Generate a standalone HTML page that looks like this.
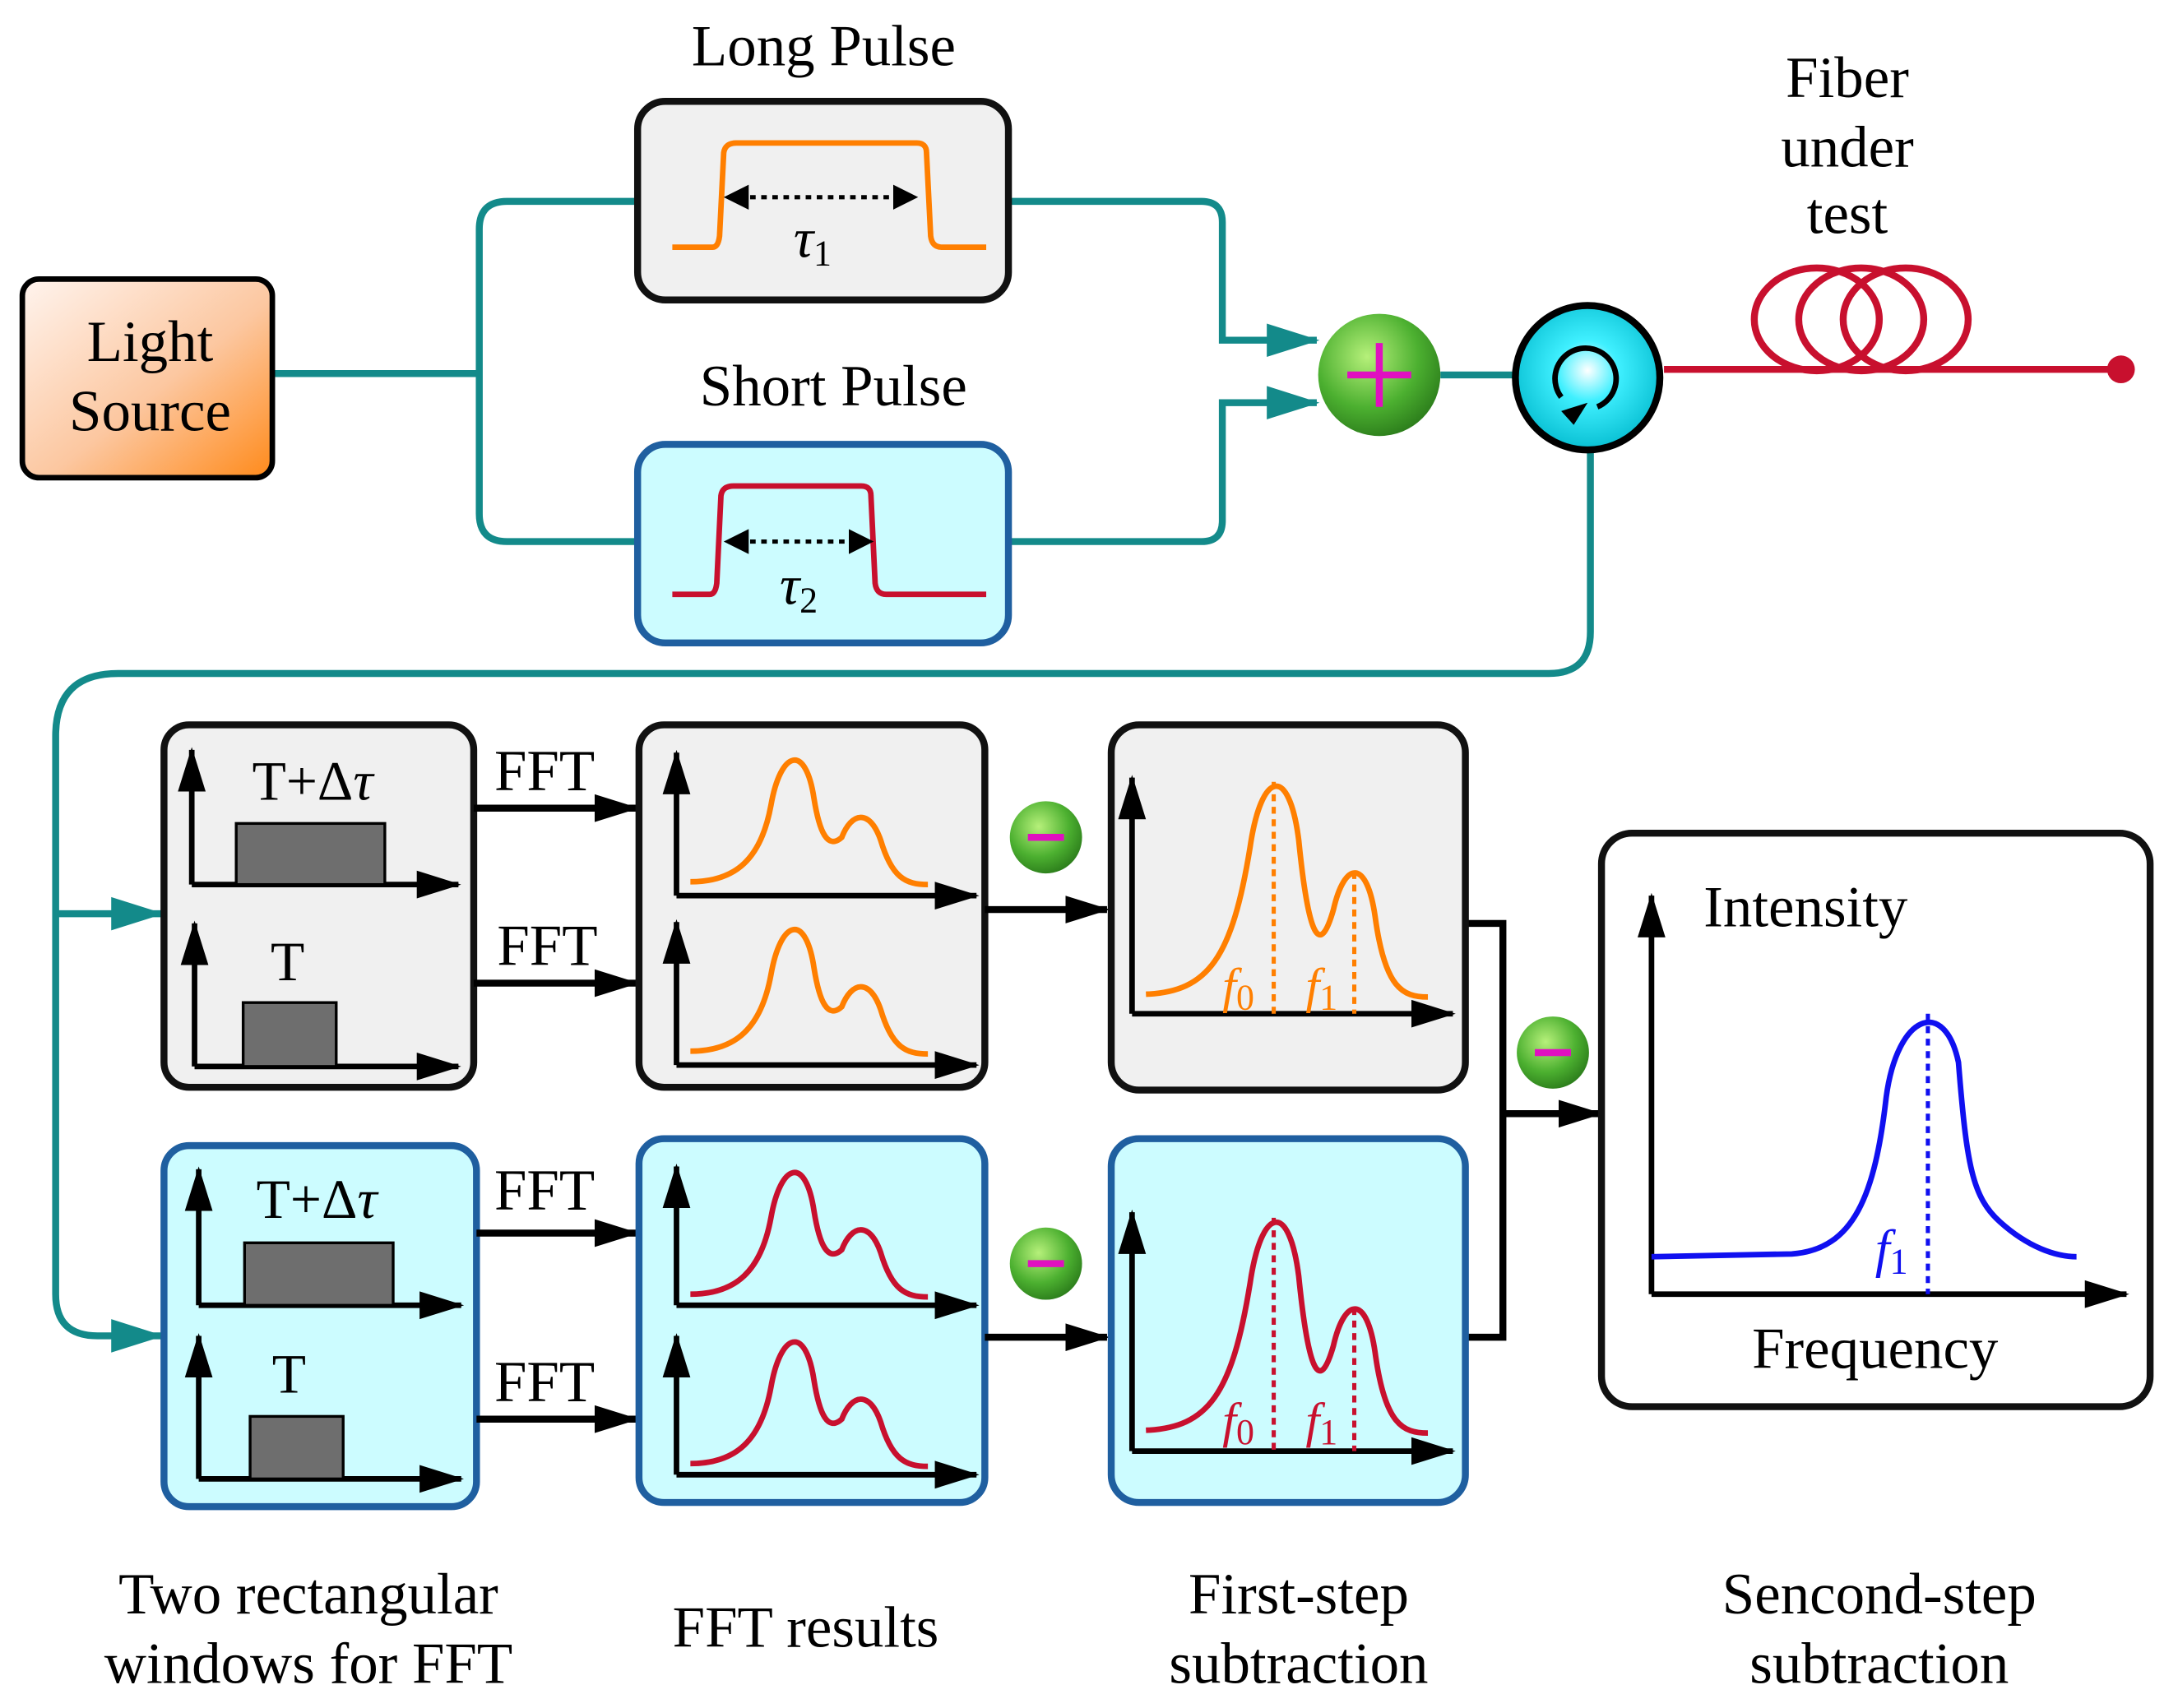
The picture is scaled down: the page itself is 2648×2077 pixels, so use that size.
<!DOCTYPE html>
<html><head><meta charset="utf-8"><style>html,body{margin:0;padding:0;background:#fff}svg{display:block}</style></head>
<body>
<svg width="2648" height="2077" viewBox="0 0 1568 1230" xmlns="http://www.w3.org/2000/svg" font-family="'Liberation Serif',serif">
<defs>
<linearGradient id="ls" x1="0" y1="0" x2="1" y2="1"><stop offset="0" stop-color="#fff4ee"/><stop offset="0.55" stop-color="#fcc7a0"/><stop offset="1" stop-color="#ff8a1a"/></linearGradient>
<radialGradient id="gr" cx="0.4" cy="0.35" r="0.7"><stop offset="0" stop-color="#b6f07a"/><stop offset="0.6" stop-color="#4cb030"/><stop offset="1" stop-color="#2a7a1a"/></radialGradient>
<radialGradient id="cy" cx="0.5" cy="0.45" r="0.6"><stop offset="0" stop-color="#ffffff"/><stop offset="0.35" stop-color="#40f0ff"/><stop offset="1" stop-color="#00b8cc"/></radialGradient>
<marker id="ak" markerWidth="32" markerHeight="22" refX="30" refY="11" orient="auto" markerUnits="userSpaceOnUse"><path d="M0,1 L32,11 L0,21 Z" fill="#000"/></marker>
<marker id="at" markerWidth="38" markerHeight="26" refX="36" refY="13" orient="auto" markerUnits="userSpaceOnUse"><path d="M0,1 L38,13 L0,25 Z" fill="#138a8a"/></marker>
<marker id="ad" markerWidth="6" markerHeight="6" refX="5" refY="3" orient="auto-start-reverse" markerUnits="strokeWidth"><path d="M0,0 L6,3 L0,6 Z" fill="#000"/></marker>
</defs>

<g fill="none" stroke="#138a8a" stroke-width="5">
<path d="M196,269 H345"/>
<path d="M459,145 H365 Q345,145 345,165 V370 Q345,390 365,390 H459"/>
<path d="M726,145 H865 Q880,145 880,160 V245 H948" marker-end="url(#at)"/>
<path d="M726,390 H865 Q880,390 880,375 V290 H948" marker-end="url(#at)"/>
<path d="M1037,270 H1090"/>
<path d="M1145,325 V455 Q1145,485 1115,485 H85 Q40,485 40,530 V932 Q40,962 70,962 H116" marker-end="url(#at)"/>
<path d="M40,658 H116" marker-end="url(#at)"/>
</g>

<rect x="16" y="201" width="180" height="143" rx="12" fill="url(#ls)" stroke="#000" stroke-width="4"/>
<text x="108" y="260" font-size="42" text-anchor="middle">Light</text>
<text x="108" y="310" font-size="42" text-anchor="middle">Source</text>

<text x="593" y="47" font-size="42" text-anchor="middle">Long Pulse</text>
<rect x="459" y="73" width="267" height="143" rx="20" fill="#f0f0f0" stroke="#111" stroke-width="5"/>
<path d="M484,178 H513 Q517,178 518,170 L521,110 Q522,103 530,103 H660 Q667,103 667,110 L670,170 Q671,178 678,178 H710" fill="none" stroke="#ff7f00" stroke-width="4"/>
<line x1="524" y1="142" x2="658" y2="142" stroke="#000" stroke-width="3" stroke-dasharray="4,4" marker-start="url(#ad)" marker-end="url(#ad)"/>
<text x="585" y="185" font-size="40" font-style="italic" text-anchor="middle">τ<tspan font-size="26" font-style="normal" dy="6">1</tspan></text>

<text x="600" y="292" font-size="42" text-anchor="middle">Short Pulse</text>
<rect x="459" y="320" width="267" height="143" rx="20" fill="#ccfcff" stroke="#1f5fa0" stroke-width="5"/>
<path d="M484,428 H511 Q515,428 516,420 L519,357 Q520,350 528,350 H620 Q627,350 627,357 L630,420 Q631,428 638,428 H710" fill="none" stroke="#c8102e" stroke-width="4"/>
<line x1="524" y1="390" x2="626" y2="390" stroke="#000" stroke-width="3" stroke-dasharray="4,4" marker-start="url(#ad)" marker-end="url(#ad)"/>
<text x="575" y="435" font-size="40" font-style="italic" text-anchor="middle">τ<tspan font-size="26" font-style="normal" dy="6">2</tspan></text>

<circle cx="993" cy="270" r="44" fill="url(#gr)"/>
<path d="M970,270 H1016 M993,247 V293" stroke="#e010c0" stroke-width="5"/>

<circle cx="1143" cy="272" r="52" fill="url(#cy)" stroke="#000" stroke-width="5"/>
<path d="M1124,286 A22,22 0 1 1 1150,293" fill="none" stroke="#000" stroke-width="4"/>
<path d="M1124,296 L1143,290 L1133,306 Z" fill="#000"/>

<line x1="1198" y1="266" x2="1527" y2="266" stroke="#c8102e" stroke-width="5"/>
<g fill="none" stroke="#c8102e" stroke-width="5">
<ellipse cx="1308" cy="230" rx="45" ry="37"/>
<ellipse cx="1340" cy="230" rx="45" ry="37"/>
<ellipse cx="1372" cy="230" rx="45" ry="37"/>
</g>
<circle cx="1527" cy="266" r="10" fill="#c8102e"/>
<text x="1330" y="70" font-size="42" text-anchor="middle">Fiber</text>
<text x="1330" y="120" font-size="42" text-anchor="middle">under</text>
<text x="1330" y="168" font-size="42" text-anchor="middle">test</text>

<rect x="118" y="522" width="223" height="261" rx="18" fill="#f0f0f0" stroke="#111" stroke-width="5"/>
<rect x="118" y="825" width="225" height="260" rx="18" fill="#ccfcff" stroke="#1f5fa0" stroke-width="5"/>
<g stroke="#000" stroke-width="4" fill="none">
<path d="M138,637 V540" marker-end="url(#ak)"/><path d="M138,637 H330" marker-end="url(#ak)"/>
<path d="M140,768 V665" marker-end="url(#ak)"/><path d="M140,768 H330" marker-end="url(#ak)"/>
<path d="M143,940 V842" marker-end="url(#ak)"/><path d="M143,940 H332" marker-end="url(#ak)"/>
<path d="M143,1065 V962" marker-end="url(#ak)"/><path d="M143,1065 H332" marker-end="url(#ak)"/>
</g>
<g fill="#6e6e6e" stroke="#000" stroke-width="2">
<rect x="170" y="593" width="107" height="44"/>
<rect x="175" y="722" width="67" height="46"/>
<rect x="176" y="895" width="107" height="45"/>
<rect x="180" y="1020" width="67" height="45"/>
</g>
<g font-size="40" text-anchor="middle">
<text x="225" y="576">T+Δ<tspan font-style="italic">τ</tspan></text>
<text x="207" y="706">T</text>
<text x="228" y="877">T+Δ<tspan font-style="italic">τ</tspan></text>
<text x="208" y="1003">T</text>
</g>

<g stroke="#000" stroke-width="5" fill="none">
<path d="M341,582 H458" marker-end="url(#ak)"/>
<path d="M341,708 H458" marker-end="url(#ak)"/>
<path d="M343,888 H458" marker-end="url(#ak)"/>
<path d="M343,1022 H458" marker-end="url(#ak)"/>
</g>
<g font-size="42" text-anchor="middle">
<text x="392" y="569">FFT</text><text x="394" y="695">FFT</text>
<text x="392" y="871">FFT</text><text x="392" y="1009">FFT</text>
</g>

<rect x="460" y="522" width="249" height="261" rx="18" fill="#f0f0f0" stroke="#111" stroke-width="5"/>
<rect x="460" y="820" width="249" height="262" rx="18" fill="#ccfcff" stroke="#1f5fa0" stroke-width="5"/>
<g id="fr">
<path d="M487,645 V542" stroke="#000" stroke-width="4" marker-end="url(#ak)"/>
<path d="M487,645 H703" stroke="#000" stroke-width="4" marker-end="url(#ak)"/>
<path d="M497,635 C530,635 548,618 555,580 C562,540 580,535 586,575 C590,600 596,612 606,603 C613,585 626,582 634,605 C642,632 652,637 668,637" fill="none" stroke="#ff7f00" stroke-width="4"/>
</g>
<use href="#fr" transform="translate(0,122)"/>
<g id="fr2">
<path d="M487,940 V840" stroke="#000" stroke-width="4" marker-end="url(#ak)"/>
<path d="M487,940 H703" stroke="#000" stroke-width="4" marker-end="url(#ak)"/>
<path d="M497,932 C530,932 548,915 555,877 C562,837 580,832 586,872 C590,897 596,909 606,900 C613,882 626,879 634,902 C642,929 652,934 668,934" fill="none" stroke="#c8102e" stroke-width="4"/>
</g>
<use href="#fr2" transform="translate(0,122)"/>

<g id="mn"><circle cx="753" cy="603" r="26" fill="url(#gr)"/><path d="M740,603 H766" stroke="#e010c0" stroke-width="5"/></g>
<use href="#mn" transform="translate(0,307)"/>
<use href="#mn" transform="translate(365,155)"/>

<g stroke="#000" stroke-width="5" fill="none">
<path d="M709,655 H797" marker-end="url(#ak)"/>
<path d="M709,963 H797" marker-end="url(#ak)"/>
<path d="M1055,665 H1082 V963 H1055"/>
<path d="M1082,802 H1152" marker-end="url(#ak)"/>
</g>

<rect x="800" y="522" width="255" height="263" rx="20" fill="#f0f0f0" stroke="#111" stroke-width="5"/>
<rect x="800" y="820" width="255" height="262" rx="20" fill="#ccfcff" stroke="#1f5fa0" stroke-width="5"/>
<path d="M815,730 V560" stroke="#000" stroke-width="4" marker-end="url(#ak)"/>
<path d="M815,730 H1046" stroke="#000" stroke-width="4" marker-end="url(#ak)"/>
<path d="M825,716 C870,714 887,690 900,610 C908,555 928,550 935,605 C942,675 950,690 960,655 C968,620 984,618 990,660 C997,712 1010,718 1028,718" fill="none" stroke="#ff7f00" stroke-width="4"/>
<g stroke="#ff7f00" stroke-width="3" stroke-dasharray="5,4"><line x1="917" y1="563" x2="917" y2="730"/><line x1="975" y1="628" x2="975" y2="730"/></g>
<g font-size="36" font-style="italic" fill="#ff7f00"><text x="880" y="722">f<tspan font-size="26" font-style="normal" dy="5">0</tspan></text><text x="940" y="722">f<tspan font-size="26" font-style="normal" dy="5">1</tspan></text></g>

<path d="M815,1045 V873" stroke="#000" stroke-width="4" marker-end="url(#ak)"/>
<path d="M815,1045 H1046" stroke="#000" stroke-width="4" marker-end="url(#ak)"/>
<path d="M825,1030 C870,1028 887,1004 900,924 C908,869 928,864 935,919 C942,989 950,1004 960,969 C968,934 984,932 990,974 C997,1026 1010,1032 1028,1032" fill="none" stroke="#c8102e" stroke-width="4"/>
<g stroke="#c8102e" stroke-width="3" stroke-dasharray="5,4"><line x1="917" y1="877" x2="917" y2="1045"/><line x1="975" y1="942" x2="975" y2="1045"/></g>
<g font-size="36" font-style="italic" fill="#c8102e"><text x="880" y="1035">f<tspan font-size="26" font-style="normal" dy="5">0</tspan></text><text x="940" y="1035">f<tspan font-size="26" font-style="normal" dy="5">1</tspan></text></g>

<rect x="1153" y="600" width="395" height="413" rx="22" fill="#fff" stroke="#111" stroke-width="5"/>
<path d="M1189,932 V645" stroke="#000" stroke-width="4" marker-end="url(#ak)"/>
<path d="M1189,932 H1531" stroke="#000" stroke-width="4" marker-end="url(#ak)"/>
<path d="M1189,905 L1290,903 C1335,900 1350,860 1358,790 C1366,730 1400,718 1410,765 C1416,840 1420,862 1440,880 C1460,898 1480,905 1495,905" fill="none" stroke="#1010f0" stroke-width="4"/>
<line x1="1388" y1="730" x2="1388" y2="932" stroke="#1010f0" stroke-width="3" stroke-dasharray="5,4"/>
<text x="1350" y="912" font-size="38" font-style="italic" fill="#1010f0">f<tspan font-size="26" font-style="normal" dy="5">1</tspan></text>
<text x="1300" y="667" font-size="42" text-anchor="middle">Intensity</text>
<text x="1350" y="985" font-size="42" text-anchor="middle">Frequency</text>

<g font-size="42" text-anchor="middle">
<text x="222" y="1162">Two rectangular</text>
<text x="222" y="1212">windows for FFT</text>
<text x="580" y="1186">FFT results</text>
<text x="935" y="1162">First-step</text>
<text x="935" y="1212">subtraction</text>
<text x="1353" y="1162">Sencond-step</text>
<text x="1353" y="1212">subtraction</text>
</g>
</svg>
</body></html>
